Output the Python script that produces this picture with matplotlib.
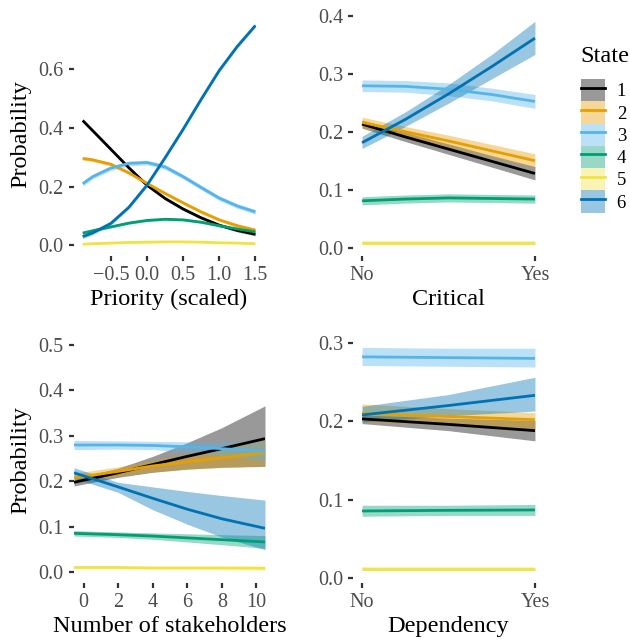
import matplotlib
matplotlib.use('Agg')
import matplotlib.pyplot as plt
from matplotlib.patches import Patch
from matplotlib.lines import Line2D

plt.rcParams['font.family'] = ['Liberation Serif', 'DejaVu Serif']

# Okabe-Ito colours for states 1..6
states = ['1', '2', '3', '4', '5', '6']
colors = ['#000000', '#E69F00', '#56B4E9', '#009E73', '#F0E442', '#0072B2']

# Priority (scaled)
pri_x = [-0.89, -0.75, -0.5, -0.25, 0.0, 0.25, 0.5, 0.75, 1.0, 1.25, 1.5]
pri_mean = [
    [0.425, 0.390, 0.327, 0.264, 0.205, 0.160, 0.124, 0.094, 0.069, 0.051, 0.038],
    [0.296, 0.291, 0.276, 0.247, 0.211, 0.177, 0.145, 0.114, 0.087, 0.067, 0.052],
    [0.210, 0.234, 0.263, 0.279, 0.282, 0.267, 0.234, 0.197, 0.161, 0.134, 0.114],
    [0.042, 0.050, 0.063, 0.076, 0.085, 0.089, 0.087, 0.079, 0.067, 0.056, 0.046],
    [0.004, 0.006, 0.008, 0.010, 0.011, 0.012, 0.012, 0.011, 0.009, 0.008, 0.006],
    [0.030, 0.043, 0.075, 0.130, 0.205, 0.298, 0.395, 0.497, 0.595, 0.677, 0.748],
]
pri_half = [0.005, 0.006, 0.008, 0.004, 0.002, 0.006]

# Critical (No = 0, Yes = 1)
crit_x = [0.0, 0.25, 0.5, 0.75, 1.0]
crit_mean = [
    [0.214, 0.192, 0.171, 0.150, 0.129],
    [0.217, 0.201, 0.185, 0.168, 0.151],
    [0.280, 0.279, 0.274, 0.265, 0.253],
    [0.082, 0.085, 0.087, 0.086, 0.085],
    [0.010, 0.010, 0.010, 0.010, 0.010],
    [0.182, 0.222, 0.266, 0.313, 0.362],
]
crit_lo = [
    [0.207, 0.184, 0.162, 0.140, 0.118],
    [0.208, 0.192, 0.175, 0.157, 0.139],
    [0.270, 0.269, 0.263, 0.254, 0.241],
    [0.075, 0.078, 0.080, 0.079, 0.078],
    [0.008, 0.008, 0.008, 0.008, 0.008],
    [0.172, 0.210, 0.250, 0.292, 0.334],
]
crit_hi = [
    [0.221, 0.200, 0.180, 0.160, 0.141],
    [0.226, 0.210, 0.195, 0.179, 0.163],
    [0.290, 0.289, 0.285, 0.276, 0.265],
    [0.089, 0.092, 0.094, 0.093, 0.092],
    [0.012, 0.012, 0.012, 0.012, 0.012],
    [0.193, 0.235, 0.282, 0.334, 0.391],
]

# Number of stakeholders
stk_x = [-0.55, 2, 4, 6, 8, 10.5]
stk_mean = [
    [0.198, 0.219, 0.237, 0.255, 0.272, 0.294],
    [0.208, 0.222, 0.234, 0.243, 0.252, 0.263],
    [0.280, 0.280, 0.279, 0.276, 0.272, 0.266],
    [0.086, 0.083, 0.080, 0.076, 0.072, 0.067],
    [0.011, 0.011, 0.010, 0.010, 0.010, 0.0095],
    [0.219, 0.188, 0.163, 0.139, 0.118, 0.097],
]
stk_lo = [
    [0.190, 0.209, 0.220, 0.227, 0.231, 0.233],
    [0.198, 0.212, 0.221, 0.227, 0.231, 0.234],
    [0.270, 0.271, 0.270, 0.265, 0.257, 0.245],
    [0.080, 0.077, 0.073, 0.067, 0.061, 0.053],
    [0.008, 0.008, 0.007, 0.007, 0.006, 0.005],
    [0.207, 0.176, 0.138, 0.106, 0.078, 0.050],
]
stk_hi = [
    [0.206, 0.229, 0.255, 0.285, 0.318, 0.366],
    [0.218, 0.232, 0.247, 0.260, 0.274, 0.290],
    [0.290, 0.289, 0.288, 0.287, 0.287, 0.287],
    [0.092, 0.089, 0.087, 0.085, 0.083, 0.081],
    [0.014, 0.014, 0.013, 0.013, 0.013, 0.013],
    [0.230, 0.198, 0.188, 0.178, 0.169, 0.159],
]

# Dependency (No = 0, Yes = 1)
dep_x = [0.0, 0.5, 1.0]
dep_mean = [
    [0.203, 0.196, 0.188],
    [0.210, 0.206, 0.202],
    [0.282, 0.281, 0.280],
    [0.0857, 0.0865, 0.087],
    [0.0115, 0.0115, 0.0115],
    [0.208, 0.220, 0.233],
]
dep_lo = [
    [0.197, 0.188, 0.175],
    [0.199, 0.196, 0.191],
    [0.271, 0.270, 0.269],
    [0.079, 0.080, 0.080],
    [0.009, 0.009, 0.009],
    [0.199, 0.207, 0.213],
]
dep_hi = [
    [0.208, 0.204, 0.201],
    [0.222, 0.216, 0.211],
    [0.294, 0.293, 0.293],
    [0.093, 0.093, 0.094],
    [0.014, 0.014, 0.014],
    [0.219, 0.234, 0.256],
]

W, H = 630, 640
fig = plt.figure(figsize=(W / 100, H / 100), dpi=100)


def panel(left, right, top, bottom):
    return fig.add_axes([left / W, 1 - bottom / H, (right - left) / W, (bottom - top) / H])


def draw(ax, x, mean, lo, hi):
    for i in range(6):
        ax.fill_between(x, lo[i], hi[i], color=colors[i], alpha=0.4, linewidth=0)
    for i in range(6):
        ax.plot(x, mean[i], color=colors[i], lw=2.0, solid_capstyle='butt')


def style(ax, xlabel, ylabel=None):
    for s in ax.spines.values():
        s.set_visible(False)
    ax.tick_params(length=3.8, width=1.6, color='#333333', labelcolor='#4D4D4D',
                   labelsize=14.5, pad=3.5)
    ax.set_xlabel(xlabel, fontsize=17.5, labelpad=3)
    if ylabel:
        ax.set_ylabel(ylabel, fontsize=17.5, labelpad=5)


ax1 = panel(74, 264, 12, 256)
pri_lo = [[m - pri_half[i] for m in pri_mean[i]] for i in range(6)]
pri_hi = [[m + pri_half[i] for m in pri_mean[i]] for i in range(6)]
draw(ax1, pri_x, pri_mean, pri_lo, pri_hi)
ax1.set_xlim(-1.01, 1.62)
ax1.set_ylim(-0.036, 0.794)
ax1.set_xticks([-0.5, 0.0, 0.5, 1.0, 1.5])
ax1.set_xticklabels(['\u22120.5', '0.0', '0.5', '1.0', '1.5'])
ax1.set_yticks([0.0, 0.2, 0.4, 0.6])
ax1.set_yticklabels(['0.0', '0.2', '0.4', '0.6'])
style(ax1, 'Priority (scaled)', 'Probability')

ax2 = panel(353.4, 543.6, 12, 256)
draw(ax2, crit_x, crit_mean, crit_lo, crit_hi)
ax2.set_xlim(-0.05, 1.05)
ax2.set_ylim(-0.013, 0.407)
ax2.set_xticks([0, 1])
ax2.set_xticklabels(['No', 'Yes'])
ax2.set_yticks([0.0, 0.1, 0.2, 0.3, 0.4])
ax2.set_yticklabels(['0.0', '0.1', '0.2', '0.3', '0.4'])
style(ax2, 'Critical')

ax3 = panel(74, 265, 338, 582.5)
draw(ax3, stk_x, stk_mean, stk_lo, stk_hi)
ax3.set_xlim(-0.55, 10.5)
ax3.set_ylim(-0.022, 0.515)
ax3.set_xticks([0, 2, 4, 6, 8, 10])
ax3.set_yticks([0.0, 0.1, 0.2, 0.3, 0.4, 0.5])
ax3.set_yticklabels(['0.0', '0.1', '0.2', '0.3', '0.4', '0.5'])
style(ax3, 'Number of stakeholders', 'Probability')

ax4 = panel(353.4, 543.6, 338, 582.5)
draw(ax4, dep_x, dep_mean, dep_lo, dep_hi)
ax4.set_xlim(-0.05, 1.05)
ax4.set_ylim(-0.0054, 0.306)
ax4.set_xticks([0, 1])
ax4.set_xticklabels(['No', 'Yes'])
ax4.set_yticks([0.0, 0.1, 0.2, 0.3])
ax4.set_yticklabels(['0.0', '0.1', '0.2', '0.3'])
style(ax4, 'Dependency')

# legend: translucent key with the line through it
fig.text(580 / W, 1 - 57 / H, 'State', fontsize=17.5, ha='left', va='center')
handles = [(Patch(facecolor=c, alpha=0.4, linewidth=0), Line2D([], [], color=c, lw=2.0))
           for c in colors]
leg = fig.legend(handles, states, loc='upper left', bbox_to_anchor=(581 / W, 1 - 79 / H),
                 frameon=False, fontsize=13.5,
                 handlelength=1.3, handleheight=1.45, labelspacing=0.0,
                 handletextpad=0.6, borderpad=0, borderaxespad=0)

plt.savefig('out.png', dpi=100)
